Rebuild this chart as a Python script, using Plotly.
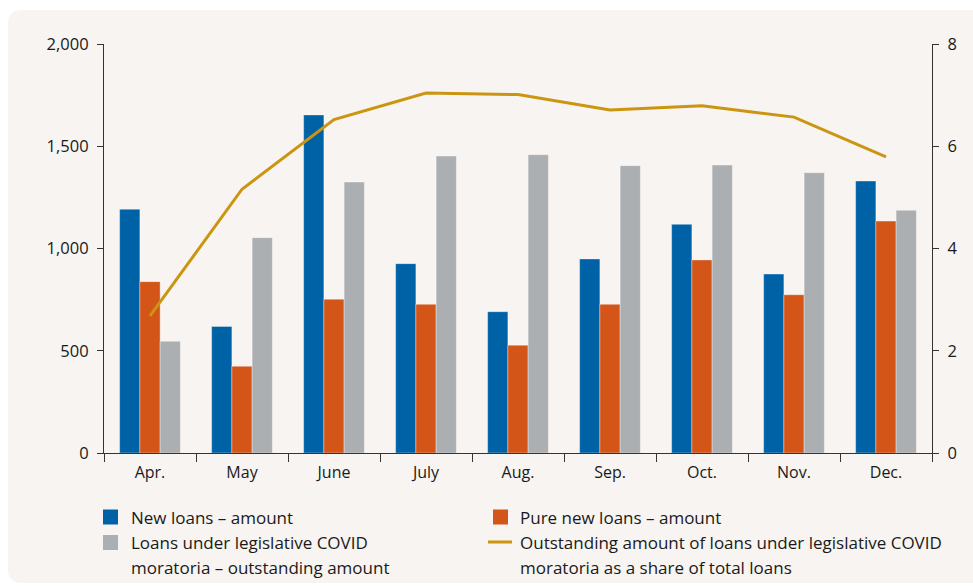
import plotly.graph_objects as go

months = ["Apr.", "May", "June", "July", "Aug.", "Sep.", "Oct.", "Nov.", "Dec."]
new_loans = [1192, 619, 1653, 926, 691, 949, 1118, 875, 1330]
pure_new_loans = [838, 424, 752, 727, 527, 727, 944, 774, 1134]
moratoria_outstanding = [546, 1053, 1325, 1452, 1459, 1405, 1408, 1371, 1187]
moratoria_share = [2.68, 5.16, 6.52, 7.04, 7.01, 6.71, 6.79, 6.57, 5.79]

BLUE = "#0062a6"
ORANGE = "#d45518"
GRAY = "#acafb2"
GOLD = "#cc9511"
BG = "#f7f4f1"
FONT = "Open Sans"

W, H = 973, 586
L, R, T, B = 104, 41, 44, 133
pw, ph = W - L - R, H - T - B

def px(x):
    return (x - L) / pw

def py(y):
    return (H - B - y) / ph

fig = go.Figure()
edge = dict(width=0.6, color="rgba(255,255,255,0.6)")
fig.add_trace(go.Bar(x=months, y=new_loans, marker=dict(color=BLUE, line=edge), name="New loans – amount"))
fig.add_trace(go.Bar(x=months, y=pure_new_loans, marker=dict(color=ORANGE, line=edge), name="Pure new loans – amount"))
fig.add_trace(go.Bar(x=months, y=moratoria_outstanding, marker=dict(color=GRAY, line=edge),
                     name="Loans under legislative COVID moratoria – outstanding amount"))
fig.add_trace(go.Scatter(x=months, y=moratoria_share, yaxis="y2", mode="lines",
                         line=dict(color=GOLD, width=3), name="share"))

# rounded background panel
x0, x1, y0, y1, r = 8, 990, 10, 583, 14
path = (f"M {px(x0)},{py(y0 + r)} Q {px(x0)},{py(y0)} {px(x0 + r)},{py(y0)} "
        f"L {px(x1)},{py(y0)} L {px(x1)},{py(y1)} L {px(x0 + r)},{py(y1)} "
        f"Q {px(x0)},{py(y1)} {px(x0)},{py(y1 - r)} Z")
shapes = [dict(type="path", path=path, xref="paper", yref="paper", fillcolor=BG,
               line=dict(width=0), layer="below")]

# manual legend
anns = []
def sq(xl, yt, color):
    shapes.append(dict(type="rect", xref="paper", yref="paper", x0=px(xl), x1=px(xl + 15),
                       y0=py(yt), y1=py(yt + 15), fillcolor=color, line=dict(width=0)))
def txt(x, y, s):
    anns.append(dict(text=s, x=px(x), y=py(y), xref="paper", yref="paper", showarrow=False,
                     xanchor="left", yanchor="middle", xshift=-2,
                     font=dict(size=17, color="#1a1a1a", family=FONT)))

sq(103, 509.5, BLUE)
txt(131, 517.5, "New loans – amount")
sq(493, 509.5, ORANGE)
txt(520, 517.5, "Pure new loans – amount")
sq(103, 535, GRAY)
txt(131, 542.5, "Loans under legislative COVID")
txt(131, 567.5, "moratoria – outstanding amount")
shapes.append(dict(type="line", xref="paper", yref="paper", x0=px(488), x1=px(512),
                   y0=py(542), y1=py(542), line=dict(color=GOLD, width=3)))
txt(520, 542.5, "Outstanding amount of loans under legislative COVID")
txt(520, 567.5, "moratoria as a share of total loans")

axcol = "#333333"
fig.update_layout(
    width=W, height=H,
    margin=dict(l=L, r=R, t=T, b=B, pad=0),
    paper_bgcolor="white", plot_bgcolor="rgba(0,0,0,0)",
    barmode="group", bargap=0.34, bargroupgap=0,
    showlegend=False,
    font=dict(family=FONT, size=15, color="#1a1a1a"),
    shapes=shapes, annotations=anns,
    xaxis=dict(showline=True, linecolor=axcol, linewidth=1.2, ticks="outside", ticklen=8,
               tickcolor=axcol, tickson="boundaries", showgrid=False, zeroline=False,
               tickfont=dict(size=16), ticklabelstandoff=5),
    yaxis=dict(range=[0, 2000], tickvals=[0, 500, 1000, 1500, 2000], tickformat=",",
               showline=True, linecolor=axcol, linewidth=1.2, ticks="outside", ticklen=6,
               tickcolor=axcol, showgrid=False, zeroline=False, tickfont=dict(size=16.5),
               ticklabelstandoff=5),
    yaxis2=dict(range=[0, 8], tickvals=[0, 2, 4, 6, 8], overlaying="y", side="right",
                showline=True, linecolor=axcol, linewidth=1.2, ticks="outside", ticklen=6,
                tickcolor=axcol, showgrid=False, zeroline=False, tickfont=dict(size=16.5),
                ticklabelstandoff=5),
)

fig.write_html("out.html")
